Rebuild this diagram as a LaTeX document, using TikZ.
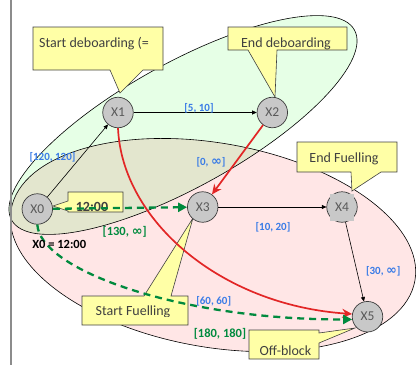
\documentclass[tikz,border=0pt]{standalone}
\usepackage{fontspec}
\setmainfont{Carlito}
\newfontfamily\symf{DejaVu Sans}
\usetikzlibrary{arrows.meta}

\definecolor{zonegreen}{RGB}{230,255,230}
\definecolor{zonepink}{RGB}{255,230,230}
\definecolor{zoneolive}{RGB}{227,230,206}
\definecolor{noteyellow}{RGB}{255,255,166}
\definecolor{noteline}{RGB}{64,64,64}
\definecolor{notetext}{RGB}{64,64,64}
\definecolor{stategray}{RGB}{200,200,200}
\definecolor{stateline}{RGB}{60,60,60}
\definecolor{statetext}{RGB}{89,89,89}
\definecolor{boundblue}{RGB}{58,124,230}
\definecolor{flowgreen}{RGB}{0,138,62}
\definecolor{flowred}{RGB}{226,38,38}
\definecolor{railgray}{RGB}{140,140,140}

\newcommand{\infsym}{{\symf\bfseries\fontsize{13}{14}\selectfont ∞}}

\begin{document}
\begin{tikzpicture}[x=1pt,y=-1pt,
  zoneedge/.style={draw=black,line width=0.6pt},
  note/.style={fill=noteyellow,draw=noteline,line width=0.6pt,line join=miter},
  notetxt/.style={inner sep=0pt,text=notetext,font=\fontsize{14}{16}\selectfont},
  state/.style={circle,minimum size=30.5pt,inner sep=0pt,fill=stategray,draw=stateline,
    line width=0.7pt,text=statetext,font=\fontsize{13.5}{15}\selectfont},
  blk/.style={draw=black,line width=0.6pt,-{Triangle[length=4.5pt,width=4pt]}},
  redflow/.style={draw=flowred,line width=1.7pt,-{Stealth[length=10pt,width=9pt]}},
  greenflow/.style={draw=flowgreen,line width=2.3pt,dash pattern=on 7pt off 5pt,
    -{Triangle[length=9pt,width=9pt]}},
  blab/.style={inner sep=0pt,text=boundblue,font=\bfseries\fontsize{11}{12}\selectfont},
  glab/.style={inner sep=0pt,text=flowgreen,font=\bfseries\fontsize{12.5}{14}\selectfont},
  klab/.style={inner sep=0pt,text=black,font=\bfseries\fontsize{12.5}{14}\selectfont}]

\useasboundingbox (0,0) rectangle (416,365);

% zones
\coordinate (gc) at (183,125);
\coordinate (pc) at (213,245);
\fill[zonegreen,rotate around={29:(gc)}] (gc) ellipse [x radius=196pt,y radius=62pt];
\fill[zonepink,rotate around={-10:(pc)}] (pc) ellipse [x radius=205pt,y radius=102pt];
\begin{scope}
  \clip[rotate around={29:(gc)}] (gc) ellipse [x radius=196pt,y radius=62pt];
  \fill[zoneolive,rotate around={-10:(pc)}] (pc) ellipse [x radius=205pt,y radius=102pt];
\end{scope}
\draw[zoneedge,rotate around={29:(gc)}] (gc) ellipse [x radius=196pt,y radius=62pt];
\draw[zoneedge,rotate around={-10:(pc)}] (pc) ellipse [x radius=205pt,y radius=102pt];

% margin rule
\draw[railgray,line width=2pt] (11,0) -- (11,365);

% callouts
\draw[note] (33,27) -- (163,27) -- (163,70) -- (143,70) -- (120,93) -- (110,70) -- (33,70) -- cycle;
\node[notetxt,anchor=base west] (n1) at (39,47) {Start deboarding (=};

\draw[note] (228,27) -- (347,27) -- (347,50) -- (277,50) -- (275,97) -- (248,50) -- (228,50) -- cycle;
\node[notetxt,anchor=base] (n2) at (286,47.3) {End deboarding};

\draw[note] (297,142) -- (397,142) -- (397,172) -- (381,172) -- (352,191) -- (351,172) -- (297,172) -- cycle;
\node[notetxt,anchor=base] (n3) at (344,162.5) {End Fuelling};

\draw[note] (68,192) -- (123,192) -- (123,212) -- (68,212) -- (68,211) -- (53,206) -- (68,201) -- cycle;
\node[notetxt,anchor=base,font=\bfseries\fontsize{14}{16}\selectfont] (n4) at (92,211.5) {12:00};

\draw[note] (82,296) -- (144,296) -- (193,218) -- (171,296) -- (188,296) -- (188,325) -- (82,325) -- cycle;
\begin{scope}
  \clip (82,296) rectangle (188,316);
  \node[notetxt,anchor=base] (n5) at (133,315) {Start Fuelling};
\end{scope}

\draw[note] (249,330) -- (319,330) -- (319,333) -- (355,328) -- (319,343) -- (319,359) -- (249,359) -- cycle;
\node[notetxt,anchor=base] (n6) at (285.5,355) {Off-block};

% events
\node[state] (X0) at (37.3,209) {X0};
\node[state] (X1) at (118,112.5) {X1};
\node[state] (X2) at (272.3,112.5) {X2};
\node[state] (X3) at (202.7,207) {X3};
\node[state] (X4) at (342,207) {};
\node[state] (X5) at (367.5,316.7) {X5};
\fill[stategray] (330,193.5) rectangle (354,220.5);
\node[inner sep=0pt,text=statetext,font=\fontsize{13.5}{15}\selectfont] (X4t) at (X4) {X4};

% constraints
\draw[blk] (X0) -- (X1);
\draw[blk] (X1) -- (X2);
\draw[blk] (X3) -- (X4);
\draw[blk] (X4) -- (X5);
\draw[redflow] (X2) -- (X3);
\draw[redflow] (X1.south) .. controls (122,220) and (220,305) .. (X5.170);
\draw[greenflow] (X0) -- (X3);
\draw[greenflow] (X0.south) .. controls (40,270) and (180,320) .. (X5.190);

% bounds
\node[blab] (l01) at (52.5,157) {[120, 120]};
\node[blab] (l12) at (199,108.3) {[5, 10]};
\node[blab] (l23) at (211,162.7) {[0, \infsym]};
\node[blab] (l34) at (273,227.3) {[10, 20]};
\node[blab] (l45) at (383.3,271) {[30, \infsym]};
\node[glab] (l03) at (124.7,231.7) {[130, \infsym]};
\node[blab] (l15) at (213.7,301.7) {[60, 60]};
\node[glab] (l05) at (220,334) {[180, 180]};
\node[klab] (x0t) at (59.2,244.3) {X0 = 12:00};
\end{tikzpicture}
\end{document}
